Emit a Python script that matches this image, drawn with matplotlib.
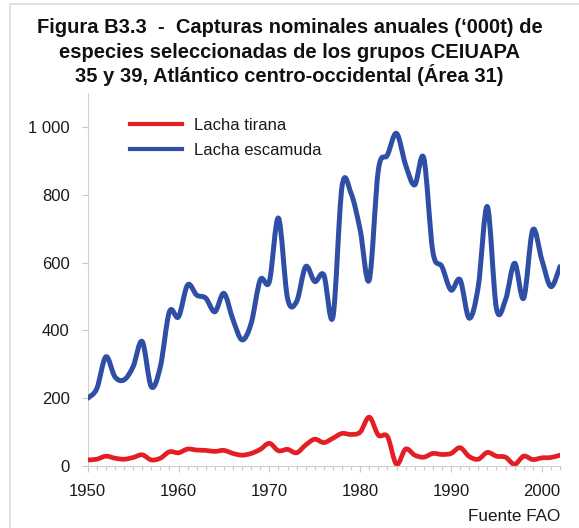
import matplotlib
matplotlib.use("Agg")
import matplotlib.pyplot as plt
import numpy as np
from matplotlib.path import Path
from matplotlib.patches import PathPatch
from matplotlib.lines import Line2D
from matplotlib.ticker import MultipleLocator, FuncFormatter

years = list(range(1950, 2003))
lacha_escamuda = [200, 228, 322, 263, 254, 293, 367, 234, 293, 455,
                  440, 534, 504, 495, 455, 509, 431, 372, 421, 549,
                  544, 731, 495, 485, 588, 544, 563, 440, 824, 804,
                  696, 549, 873, 917, 981, 888, 829, 908, 632, 588,
                  519, 549, 436, 529, 765, 465, 490, 598, 495, 696,
                  608, 529, 588]
lacha_tirana = [18, 20, 29, 23, 20, 25, 33, 18, 23, 42,
                39, 50, 47, 46, 43, 46, 37, 32, 37, 49,
                67, 45, 49, 39, 62, 79, 69, 82, 96, 93,
                100, 144, 91, 87, 5, 50, 32, 26, 37, 34,
                37, 54, 28, 20, 40, 29, 26, 5, 29, 19,
                24, 25, 32]
series_names = ["Lacha tirana", "Lacha escamuda"]
title_lines = ["Figura B3.3  -  Capturas nominales anuales (\u2018000t) de",
               "especies seleccionadas de los grupos CEIUAPA",
               "35 y 39, Atl\u00e1ntico centro-occidental (\u00c1rea 31)"]

RED = "#e31e24"
BLUE = "#2e4fa5"

plt.rcParams['font.family'] = ['Liberation Sans', 'DejaVu Sans']

W, H = 579, 528
fig = plt.figure(figsize=(W/100, H/100), dpi=100)
ax = fig.add_axes([87.7/W, 1-466/H, (560-87.7)/W, (466-93)/H])


def smooth_path(x, y):
    x = np.asarray(x, float); y = np.asarray(y, float)
    pts = np.column_stack([x, y])
    verts = [pts[0]]
    codes = [Path.MOVETO]
    n = len(pts)
    for i in range(n - 1):
        p0 = pts[i - 1] if i > 0 else pts[i]
        p1 = pts[i]
        p2 = pts[i + 1]
        p3 = pts[i + 2] if i + 2 < n else pts[i + 1]
        c1 = p1 + (p2 - p0) / 6.0
        c2 = p2 - (p3 - p1) / 6.0
        verts += [c1, c2, p2]
        codes += [Path.CURVE4] * 3
    return Path(verts, codes)


for vals, col, lw in [(lacha_tirana, RED, 3.4), (lacha_escamuda, BLUE, 3.6)]:
    patch = PathPatch(smooth_path(years, vals), fill=False, edgecolor=col,
                      lw=lw, capstyle='round', joinstyle='round', zorder=3)
    ax.add_patch(patch)

ax.set_xlim(1950, 2002)
ax.set_ylim(0, 1100)

for s in ['top', 'right']:
    ax.spines[s].set_visible(False)
for s in ['left', 'bottom']:
    ax.spines[s].set_color('#d0d0d0')
    ax.spines[s].set_linewidth(0.8)

ax.xaxis.set_major_locator(MultipleLocator(10))
ax.xaxis.set_minor_locator(MultipleLocator(1))
ax.yaxis.set_major_locator(MultipleLocator(200))
ax.yaxis.set_major_formatter(FuncFormatter(lambda v, p: f"{int(v):,}".replace(",", " ")))
ax.tick_params(axis='both', which='major', colors='#c8c8c8', labelcolor='#1a1a1a',
               labelsize=12, length=4, width=0.8)
ax.tick_params(axis='x', which='minor', colors='#c8c8c8', length=3, width=0.8)
ax.tick_params(axis='y', pad=9)
ax.tick_params(axis='x', pad=9)

handles = [Line2D([], [], color=RED, lw=3.0), Line2D([], [], color=BLUE, lw=3.0)]
leg = ax.legend(handles, series_names, loc='upper left', bbox_to_anchor=(0.065, 0.965),
                frameon=False, fontsize=12, handlelength=3.1, handletextpad=0.75,
                labelspacing=0.62, borderaxespad=0.3)
for t in leg.get_texts():
    t.set_color('#1a1a1a')

baselines = [32.7, 57.5, 81.5]
for line, b in zip(title_lines, baselines):
    fig.text(0.5, 1-b/H, line, ha='center', va='baseline', fontsize=14.5,
             fontweight='bold', color='#111111')
fig.text(560/W, 1-521/H, "Fuente FAO", ha='right', va='baseline', fontsize=12.3,
         color='#1a1a1a')

# light frame lines at top and left
fig.add_artist(Line2D([10/W, 1], [1-4/H, 1-4/H], color='#dcdcdc', lw=1.2,
                      transform=fig.transFigure))
fig.add_artist(Line2D([10/W, 10/W], [0, 1-4/H], color='#dcdcdc', lw=1.2,
                      transform=fig.transFigure))

fig.savefig("out.png", dpi=100)
